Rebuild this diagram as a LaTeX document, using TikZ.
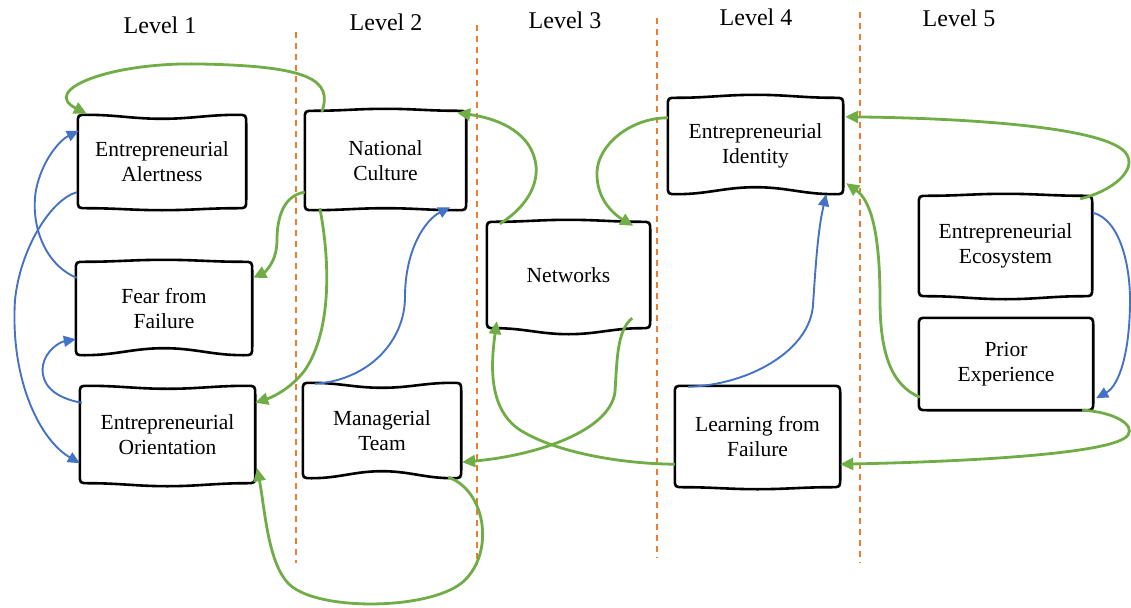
\documentclass[tikz,border=0pt]{standalone}
\usepackage{fontspec}
\setmainfont{Liberation Serif}
\usetikzlibrary{arrows.meta,calc}
\definecolor{grn}{HTML}{70AD47}
\definecolor{blu}{HTML}{4472C4}
\definecolor{org}{HTML}{ED7D31}
% #1 node, #2 top midpoint offset (+ = down), #3 bottom midpoint offset (+ = down)
\newcommand\wobble[3]{%
 \draw[boxline] ($(#1.north west)+(0,9)$) .. controls (#1.north west) .. ($(#1.north west)+(9,0)$)
   to[out=0,in=180] ($(#1.north)+(0,#2)$) to[out=0,in=180] ($(#1.north east)+(-9,0)$)
   .. controls (#1.north east) .. ($(#1.north east)+(0,9)$)
   -- ($(#1.south east)+(0,-9)$) .. controls (#1.south east) .. ($(#1.south east)+(-9,0)$)
   to[out=180,in=0] ($(#1.south)+(0,#3)$) to[out=180,in=0] ($(#1.south west)+(9,0)$)
   .. controls (#1.south west) .. ($(#1.south west)+(0,-9)$) -- cycle;}
\begin{document}
\begin{tikzpicture}[x=1pt,y=-1pt,
  box/.style={inner sep=0pt, align=center, font=\fontsize{21.5}{24.5}\selectfont},
  boxline/.style={line width=2.6pt, line join=round},
  lvl/.style={font=\fontsize{24}{28}\selectfont},
  gline/.style={draw=grn, line width=2.8pt, -{Triangle[length=13pt,width=12pt]}},
  bline/.style={draw=blu, line width=1.9pt, -{Triangle[length=12pt,width=11pt]}},
  sep/.style={draw=org, line width=1.5pt, dash pattern=on 6pt off 5pt}]
\useasboundingbox (0,0) rectangle (1131,607);
% separators
\draw[sep] (296,32) -- (296,563);
\draw[sep] (477,25) -- (477,565);
\draw[sep] (657,18) -- (657,558);
\draw[sep] (860,12) -- (860,563);
% level labels
\node[lvl] (l1) at (160,25) {Level 1};
\node[lvl] (l2) at (386,22) {Level 2};
\node[lvl] (l3) at (565,20) {Level 3};
\node[lvl] (l4) at (756,17) {Level 4};
\node[lvl] (l5) at (959,18) {Level 5};
% nodes
\node[box, minimum width=168, minimum height=93] (ea) at (162,161.5) {Entrepreneurial\\Alertness};
\node[box, minimum width=176, minimum height=93] (ff) at (164,308.5) {Fear from\\Failure};
\node[box, minimum width=175, minimum height=97] (eo) at (167.5,434.5) {Entrepreneurial\\Orientation};
\node[box, minimum width=161, minimum height=99] (nc) at (385.5,160.5) {National\\Culture};
\node[box, minimum width=158, minimum height=95] (mt) at (382,430.5) {Managerial\\Team};
\node[box, minimum width=163, minimum height=106] (nw) at (568.5,275) {Networks};
\node[box, minimum width=175, minimum height=96] (ei) at (755.5,146) {Entrepreneurial\\Identity};
\node[box, minimum width=165, minimum height=101] (lf) at (757.5,436.5) {Learning from\\Failure};
\node[box, minimum width=173, minimum height=100] (ee) at (1005.5,246) {Entrepreneurial\\Ecosystem};
\node[box, minimum width=174, minimum height=92] (pe) at (1006,364) {Prior\\Experience};
\wobble{ea}{4}{2}
\wobble{ff}{-2}{-7}
\wobble{eo}{3}{3}
\wobble{nc}{-2}{-2}
\wobble{mt}{5}{-7}
\wobble{nw}{-2}{6}
\wobble{ei}{-3}{-7}
\wobble{lf}{0}{2}
\wobble{ee}{-2}{3}
\wobble{pe}{0}{0}
% green connectors
\draw[gline] ($(nc.north west)+(17,1)$) .. controls (333,80) and (310,66) .. (200,64)
  .. controls (110,62) and (40,90) .. ($(ea.north west)+(9,-1)$);
\draw[gline] ($(nc.south west)+(0,-18)$) .. controls (285,195) and (277,215) .. (277,240)
  .. controls (277,262) and (265,272) .. ($(ff.north east)+(1,16)$);
\draw[gline] ($(nc.south west)+(15,-2)$) .. controls (330,260) and (332,330) .. (305,370)
  .. controls (290,390) and (270,398) .. ($(eo.north east)+(0,17)$);
\draw[gline] ($(mt.south east)+(-13,-1)$) .. controls (485,490) and (495,550) .. (465,580)
  .. controls (435,610) and (320,612) .. (290,585)
  .. controls (268,565) and (265,510) .. ($(eo.south east)+(2,-15)$);
\draw[gline] ($(nw.north west)+(13,2)$) .. controls (530,205) and (540,180) .. (535,160)
  .. controls (528,130) and (495,118) .. ($(nc.north east)+(-9,2)$);
\draw[gline] ($(ei.north west)+(0,20)$) .. controls (630,118) and (598,145) .. (597,172)
  .. controls (596,200) and (615,215) .. ($(nw.north east)+(-17,4)$);
\draw[gline] ($(nw.south east)+(-18,-10)$) .. controls (617,330) and (617,360) .. (615,392)
  .. controls (610,430) and (540,455) .. ($(mt.south east)+(1,-16)$);
\draw[gline] ($(lf.south west)+(0,-23)$) .. controls (630,464) and (560,455) .. (520,430)
  .. controls (490,410) and (490,370) .. ($(nw.south west)+(10,-7)$);
\draw[gline] ($(ee.north east)+(-12,3)$) .. controls (1110,192) and (1140,170) .. (1125,152)
  .. controls (1100,125) and (950,118) .. ($(ei.north east)+(2,19)$);
\draw[gline] ($(pe.south west)+(1,-13)$) .. controls (890,385) and (880,350) .. (880,300)
  .. controls (880,230) and (870,200) .. ($(ei.south east)+(3,-11)$);
\draw[gline] ($(pe.south east)+(-11,0)$) .. controls (1115,412) and (1135,425) .. (1128,435)
  .. controls (1115,455) and (950,462) .. ($(lf.south east)+(0,-23)$);
% blue connectors
\draw[bline] ($(ff.north west)+(1,16)$) .. controls (45,265) and (30,225) .. (36,190)
  .. controls (42,160) and (60,140) .. ($(ea.north west)+(1,16)$);
\draw[bline] ($(ea.south west)+(-1,-16)$) .. controls (50,200) and (20,250) .. (15,300)
  .. controls (10,380) and (40,440) .. ($(eo.south west)+(0,-20)$);
\draw[bline] ($(eo.north west)+(2,17)$) .. controls (55,398) and (40,385) .. (43,365)
  .. controls (46,350) and (60,342) .. ($(ff.south west)+(0,-16)$);
\draw[bline] ($(mt.north west)+(12,1)$) .. controls (370,380) and (405,340) .. (405,297)
  .. controls (405,250) and (425,220) .. ($(nc.south east)+(-16,-3)$);
\draw[bline] ($(lf.north west)+(13,1)$) .. controls (750,385) and (810,350) .. (813,305)
  .. controls (816,260) and (818,230) .. ($(ei.south east)+(-17,0)$);
\draw[bline] ($(ee.north east)+(1,17)$) .. controls (1120,220) and (1130,265) .. (1130,300)
  .. controls (1130,350) and (1120,385) .. ($(pe.south east)+(3,-12)$);
\end{tikzpicture}
\end{document}
